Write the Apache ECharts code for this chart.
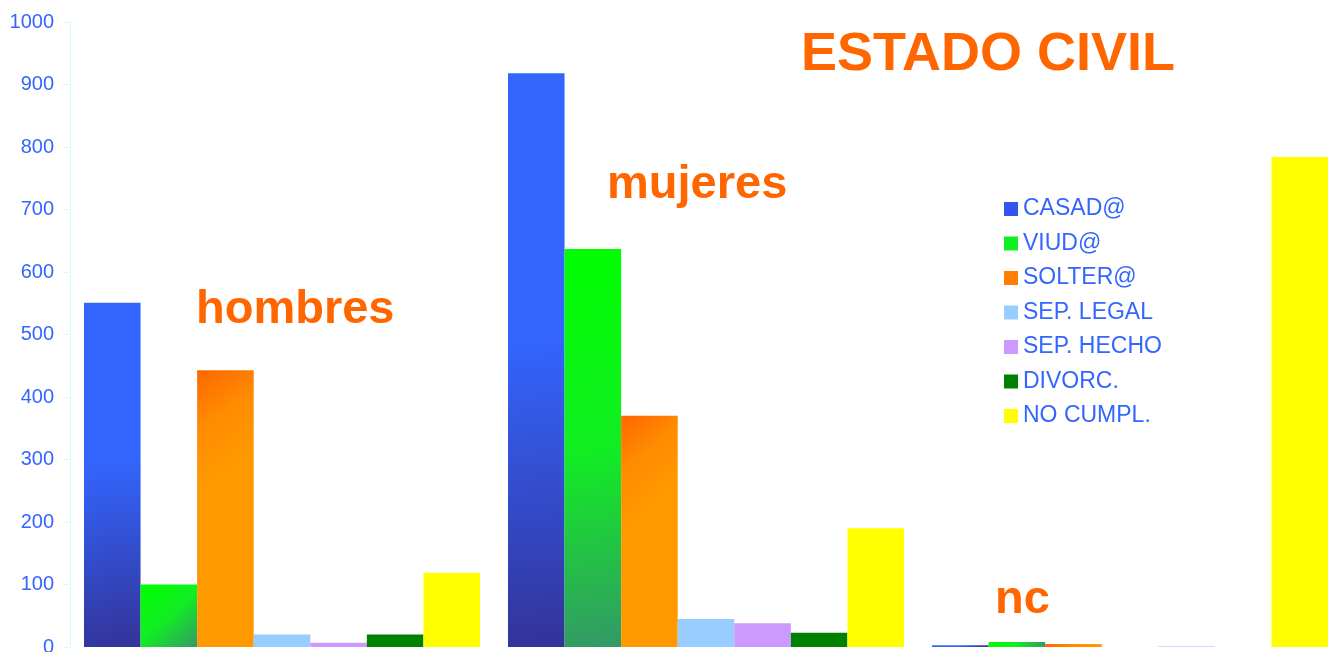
<!DOCTYPE html>
<html>
<head>
<meta charset="utf-8">
<script src="https://cdn.jsdelivr.net/npm/echarts@6/dist/echarts.min.js"></script>
<style>html,body{margin:0;padding:0;background:#fff;}#c{width:1329px;height:652px;}</style>
</head>
<body>
<div id="c"></div>
<script>
const categories = ['hombres', 'mujeres', 'nc'];
const seriesNames = ['CASAD@', 'VIUD@', 'SOLTER@', 'SEP. LEGAL', 'SEP. HECHO', 'DIVORC.', 'NO CUMPL.'];
const casado   = [551, 918, 3];
const viudo    = [100, 637, 8];
const soltero  = [443, 370, 5];
const sepLegal = [20, 45, 0];
const sepHecho = [7, 38, 1];
const divorc   = [20, 23, 0];
const noCumpl  = [119, 190, 784];
const yTicks = [0, 100, 200, 300, 400, 500, 600, 700, 800, 900, 1000];

const values = [casado, viudo, soltero, sepLegal, sepHecho, divorc, noCumpl];
function grad(x2, y2, stops) {
  return new echarts.graphic.LinearGradient(0, 0, x2, y2, stops.map((c) => ({offset: c[0], color: c[1]})));
}
const colors = [
  grad(1, 1, [[0, '#3366ff'], [0.45, '#3366ff'], [1, '#333399']]),
  grad(1, 1, [[0, '#00ff00'], [0.5, '#11ee22'], [1, '#339966']]),
  grad(1, 0.3, [[0, '#ff6600'], [0.5, '#ff8c00'], [1, '#ff9900']]),
  '#99ccff', '#cc99ff', '#008000', '#ffff00'
];
const legendColors = ['#3355ee', '#11ee22', '#ff8000', '#99ccff', '#cc99ff', '#008000', '#ffff00'];
const FONT = 'Liberation Sans, Arial, sans-serif';

const chart = echarts.init(document.getElementById('c'));
chart.setOption({
  animation: false,
  backgroundColor: '#ffffff',
  grid: {left: 70, right: -13, top: 22, bottom: 5, containLabel: false, outerBoundsMode: 'none'},
  legend: {
    orient: 'vertical', left: 1004, top: 197.5, padding: 0,
    itemWidth: 14, itemHeight: 14, itemGap: 11.5,
    icon: 'rect',
    textStyle: {color: '#3366ff', fontSize: 23, fontFamily: FONT, lineHeight: 23},
    data: seriesNames.map((n, i) => ({name: n, itemStyle: {color: legendColors[i]}}))
  },
  xAxis: {
    type: 'category', data: categories,
    axisLine: {show: false}, axisTick: {show: false}, axisLabel: {show: false}
  },
  yAxis: {
    type: 'value', min: yTicks[0], max: yTicks[yTicks.length - 1], interval: yTicks[1] - yTicks[0],
    axisLine: {show: true, lineStyle: {color: '#ccffff', width: 1}},
    axisTick: {show: true, length: 6, lineStyle: {color: '#ccffff'}},
    splitLine: {show: false},
    axisLabel: {color: '#3366ff', fontSize: 20, margin: 16, fontFamily: FONT, formatter: (v) => String(v)}
  },
  series: seriesNames.map((n, i) => ({
    name: n, type: 'bar', data: values[i],
    barGap: '0%', barCategoryGap: '6.6%',
    itemStyle: {color: colors[i]}
  })),
  graphic: [
    {type: 'text', x: 801, y: 55, style: {text: 'ESTADO CIVIL', fill: '#ff6600', font: 'bold 54px ' + FONT, verticalAlign: 'middle'}},
    {type: 'text', x: 196, y: 310, style: {text: 'hombres', fill: '#ff6600', font: 'bold 47px ' + FONT, verticalAlign: 'middle'}},
    {type: 'text', x: 607, y: 185, style: {text: 'mujeres', fill: '#ff6600', font: 'bold 47px ' + FONT, verticalAlign: 'middle'}},
    {type: 'text', x: 995, y: 600, style: {text: 'nc', fill: '#ff6600', font: 'bold 47px ' + FONT, verticalAlign: 'middle'}}
  ]
});
</script>
</body>
</html>
